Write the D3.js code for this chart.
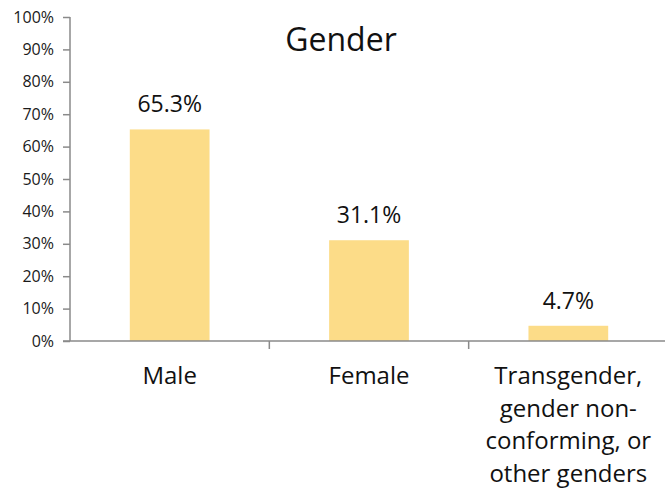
<!DOCTYPE html>
<html>
<head>
<meta charset="utf-8">
<script src="https://cdn.jsdelivr.net/npm/d3@7"></script>
<style>
  body { margin: 0; background: #fff; }
  svg { display: block; font-family: "Open Sans", Lato, sans-serif; }
  .axis path, .axis line { stroke: #8a8a8a; stroke-width: 1.5; }
  .axis text { fill: #1a1a1a; }
</style>
</head>
<body>
<div id="chart"></div>
<script>
var categories = ["Male", "Female", "Transgender, gender non-conforming, or other genders"];
var catLines = [["Male"], ["Female"], ["Transgender,", "gender non-", "conforming, or", "other genders"]];
var values = [65.3, 31.1, 4.7];
var valueLabels = ["65.3%", "31.1%", "4.7%"];
var yTicks = [0, 10, 20, 30, 40, 50, 60, 70, 80, 90, 100];
var title = "Gender";

var width = 665, height = 503;
var svg = d3.select("#chart").append("svg")
  .attr("width", width)
  .attr("height", height);

var x = d3.scaleBand()
  .domain(categories)
  .range([70, 668])
  .paddingInner(0.6)
  .paddingOuter(0.3);

var y = d3.scaleLinear()
  .domain([0, 100])
  .range([341, 17]);

// bars
svg.selectAll("rect.bar")
  .data(values)
  .enter().append("rect")
  .attr("class", "bar")
  .attr("x", function(d, i) { return x(categories[i]); })
  .attr("y", function(d) { return y(d); })
  .attr("width", x.bandwidth())
  .attr("height", function(d) { return y(0) - y(d); })
  .attr("fill", "#fcdc88");

// value labels
svg.selectAll("text.val")
  .data(values)
  .enter().append("text")
  .attr("class", "val")
  .attr("x", function(d, i) { return x(categories[i]) + x.bandwidth() / 2; })
  .attr("y", function(d) { return y(d) - 17; })
  .attr("text-anchor", "middle")
  .attr("font-size", 23)
  .attr("fill", "#111")
  .text(function(d, i) { return valueLabels[i]; });

// y axis
var yAxis = svg.append("g")
  .attr("class", "axis")
  .attr("transform", "translate(70,0)")
  .call(d3.axisLeft(y).tickValues(yTicks).tickSize(7).tickPadding(9)
    .tickFormat(function(d) { return d + "%"; }));
yAxis.select(".domain").attr("d", "M0," + y(100) + "V" + y(0));
yAxis.selectAll("text").attr("font-size", 16).attr("font-family", "\"Open Sans\", sans-serif");

// x axis line + band boundary ticks
var xAxis = svg.append("g").attr("class", "axis");
xAxis.append("line")
  .attr("x1", 63).attr("x2", width)
  .attr("y1", y(0)).attr("y2", y(0));
var step = x.step();
var bounds = categories.slice(1).map(function(c) { return x(c) - x.paddingInner() * step / 2; });
xAxis.selectAll("line.tk")
  .data(bounds)
  .enter().append("line")
  .attr("class", "tk")
  .attr("x1", function(d) { return d; }).attr("x2", function(d) { return d; })
  .attr("y1", y(0)).attr("y2", y(0) + 8);

// category labels
catLines.forEach(function(lines, i) {
  var t = svg.append("text")
    .attr("x", x(categories[i]) + x.bandwidth() / 2)
    .attr("y", 384)
    .attr("text-anchor", "middle")
    .attr("font-size", 24)
    .attr("fill", "#111");
  lines.forEach(function(l, j) {
    t.append("tspan")
      .attr("x", x(categories[i]) + x.bandwidth() / 2)
      .attr("dy", j === 0 ? 0 : 32.5)
      .text(l);
  });
});

// title
svg.append("text")
  .attr("x", 341)
  .attr("y", 51)
  .attr("text-anchor", "middle")
  .attr("font-size", 32)
  .attr("fill", "#111")
  .text(title);
</script>
</body>
</html>
